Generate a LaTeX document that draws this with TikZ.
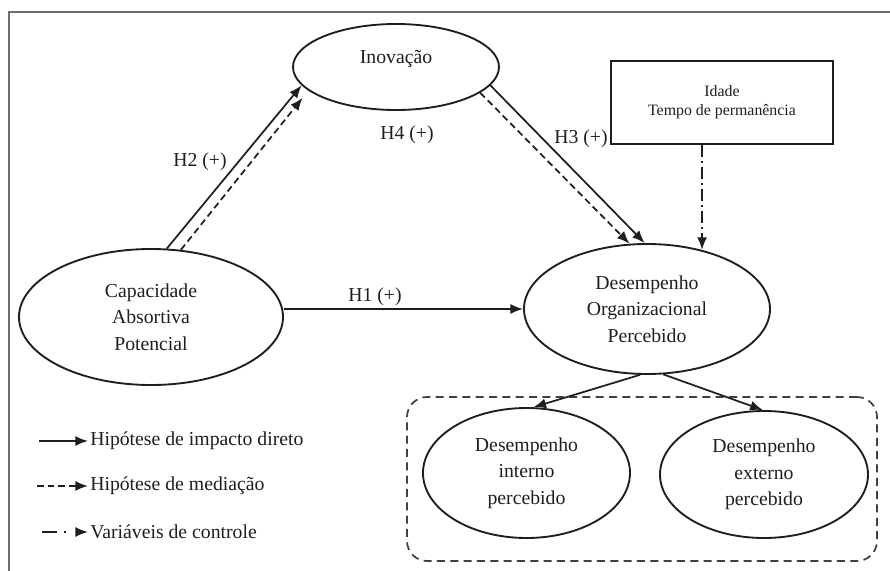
\documentclass[tikz,border=0pt]{standalone}
\usepackage{fontspec}
\setmainfont{Liberation Serif}
\usetikzlibrary{arrows.meta,shapes.geometric}
\newcommand\mainfnt{\fontsize{14.8}{19.8}\selectfont}
\newcommand\smallfnt{\fontsize{11.9}{13.5}\selectfont}
\definecolor{framegray}{HTML}{6E6E6E}
\definecolor{inkc}{HTML}{1E1E1E}
\begin{document}
\begin{tikzpicture}[x=0.75pt,y=-0.75pt,
  ell/.style={ellipse,draw=inkc,line width=1.4pt,inner sep=0pt,align=center,font=\mainfnt,text=inkc},
  txt/.style={inner sep=0pt,font=\mainfnt,text=inkc},
  leg/.style={inner sep=1.5pt,font=\mainfnt,text=inkc,anchor=west},
  tip/.style={-{Latex[length=9.5pt,width=7.5pt]}},
  direct/.style={tip,draw=inkc,line width=1.3pt},
  medi/.style={tip,draw=inkc,line width=1.3pt,dash pattern=on 5pt off 3pt},
  ctrlarr/.style={tip,draw=inkc,line width=1.3pt,dash pattern=on 9pt off 3pt on 1.5pt off 3pt},
  ctrlleg/.style={tip,draw=inkc,line width=1.3pt,dash pattern=on 11pt off 5.5pt on 1.5pt off 20pt}]
\useasboundingbox (0,0) rectangle (890,571);
% frame
\draw[framegray,line width=1.5pt] (9,571) -- (9,12) -- (890,12);
% group box
\node[draw=inkc!85,line width=1.3pt,dash pattern=on 6pt off 4pt,rounded corners=15pt,
  minimum width=352.5pt,minimum height=123pt,inner sep=0pt] (grp) at (642,479) {};
% nodes
\node[ell,minimum width=198pt,minimum height=102pt] (cap) at (151,317) {Capacidade\\Absortiva\\Potencial};
\node[ell,minimum width=154.5pt,minimum height=64.5pt] (inov) at (396,67) {};
\node[txt] (inovT) at (396,59) {Inovação};
\node[ell,minimum width=184.5pt,minimum height=97.5pt] (dop) at (647,309) {Desempenho\\Organizacional\\Percebido};
\node[ell,minimum width=155.25pt,minimum height=97.5pt] (int) at (526.5,473) {Desempenho\\interno\\percebido};
\node[ell,minimum width=156pt,minimum height=95.25pt] (ext) at (764,474.5) {Desempenho\\externo\\percebido};
\node[rectangle,draw=inkc,line width=1.3pt,minimum width=166.5pt,minimum height=62.25pt,
  inner sep=0pt,align=center,font=\smallfnt,text=inkc] (ctrl) at (722,102.5) {Idade\\[1pt]Tempo de permanência};
% labels
\node[txt] (h1) at (375,297) {H1 (+)};
\node[txt] (h2) at (200,162) {H2 (+)};
\node[txt] (h4) at (407,135) {H4 (+)};
\node[txt] (h3) at (581,139) {H3 (+)};
% connectors
\draw[direct] (cap.east |- dop.west) -- (dop.west);
\draw[direct] (cap.77) -- (inov.191);
\draw[medi] (cap.66) -- ([shift={(-11,4)}]inov.198);
\draw[direct] (inov.349) -- (dop.92);
\draw[medi] (inov.343) -- (dop.105);
\draw[ctrlarr] (ctrl.south -| dop.47) -- (dop.47);
\draw[direct] (dop.264) -- (int.84);
\draw[direct] (dop.284) -- (ext.91);
% legend
\coordinate (ls1) at (39,441);
\coordinate (ls2) at (37,486);
\coordinate (ls3) at (42,532);
\node[leg] (leg1) at (88,441) {Hipótese de impacto direto};
\node[leg] (leg2) at (88,486) {Hipótese de mediação};
\node[leg] (leg3) at (88,532) {Variáveis de controle};
\draw[direct] (ls1) -- (leg1.west);
\draw[medi] (ls2) -- (leg2.west);
\draw[ctrlleg] (ls3) -- (leg3.west);
\end{tikzpicture}
\end{document}
